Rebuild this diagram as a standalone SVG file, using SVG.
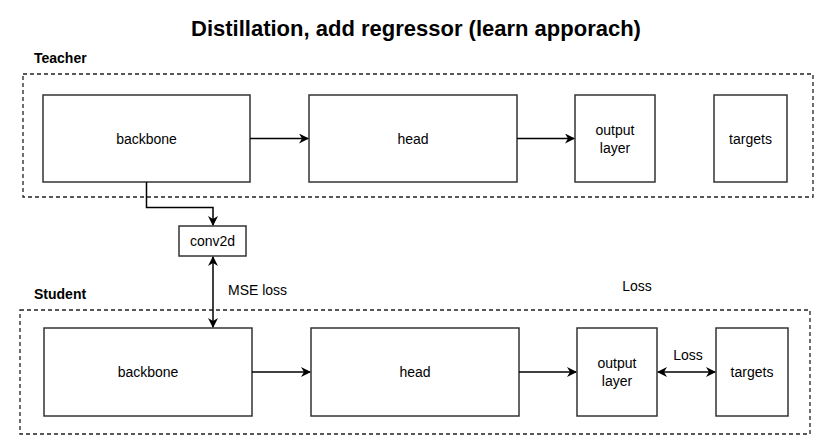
<svg xmlns="http://www.w3.org/2000/svg" width="832" height="447" viewBox="0 0 832 447">
<style>
text{font-family:"Liberation Sans",Arial,sans-serif;fill:#000}
.lbl{font-size:14px;text-anchor:middle}
.box{fill:#fff;stroke:#333;stroke-width:1.5}
.grp{fill:none;stroke:#222;stroke-width:1.3;stroke-dasharray:4 3}
.conn{fill:none;stroke:#000;stroke-width:1.5}
.h{font-weight:bold;font-size:14px}
</style>
<defs>
<marker id="ah" viewBox="0 0 10 10" refX="9" refY="5" markerWidth="10" markerHeight="10" orient="auto-start-reverse" markerUnits="userSpaceOnUse">
<path d="M0,0 L10,5 L0,10 L3,5 Z" fill="#000"/>
</marker>
</defs>
<rect width="832" height="447" fill="#fff"/>
<text x="416" y="36" font-size="22" font-weight="bold" text-anchor="middle">Distillation, add regressor (learn apporach)</text>
<g id="teacher">
<text class="h" x="34" y="63">Teacher</text>
<rect class="grp" x="23" y="74" width="790" height="123"/>
</g>
<g id="student">
<text class="h" x="34" y="299">Student</text>
<rect class="grp" x="20" y="310" width="790" height="124"/>
</g>
<g id="t-backbone"><rect class="box" x="43" y="95" width="207" height="87"/><text class="lbl" x="146.5" y="143.5">backbone</text></g>
<g id="t-head"><rect class="box" x="309" y="95" width="208" height="87"/><text class="lbl" x="413" y="143.5">head</text></g>
<g id="t-output"><rect class="box" x="575" y="95" width="80" height="87"/><text class="lbl" x="615" y="135">output</text><text class="lbl" x="615" y="153">layer</text></g>
<g id="t-targets"><rect class="box" x="714" y="95" width="73" height="87"/><text class="lbl" x="750.5" y="143.5">targets</text></g>
<g id="conv2d"><rect class="box" x="179" y="226" width="67" height="30"/><text class="lbl" x="212.5" y="246">conv2d</text></g>
<g id="s-backbone"><rect class="box" x="44" y="328" width="208" height="88"/><text class="lbl" x="148" y="377">backbone</text></g>
<g id="s-head"><rect class="box" x="311" y="328" width="208" height="88"/><text class="lbl" x="415" y="377">head</text></g>
<g id="s-output"><rect class="box" x="577" y="328" width="80" height="88"/><text class="lbl" x="617" y="368">output</text><text class="lbl" x="617" y="386">layer</text></g>
<g id="s-targets"><rect class="box" x="716" y="328" width="72" height="88"/><text class="lbl" x="752" y="377">targets</text></g>
<g id="connectors">
<path class="conn" d="M250,138.5 H308" marker-end="url(#ah)"/>
<path class="conn" d="M517,138.5 H574" marker-end="url(#ah)"/>
<path class="conn" d="M146.5,182 V207.5 H213 V225" marker-end="url(#ah)"/>
<path class="conn" d="M213,257 V327" marker-start="url(#ah)" marker-end="url(#ah)"/>
<path class="conn" d="M252,372 H310" marker-end="url(#ah)"/>
<path class="conn" d="M519,372 H576" marker-end="url(#ah)"/>
<path class="conn" d="M658,372 H715" marker-start="url(#ah)" marker-end="url(#ah)"/>
<text x="228" y="295" font-size="14">MSE loss</text>
<text class="lbl" x="637" y="291">Loss</text>
<text class="lbl" x="688" y="360">Loss</text>
</g>
</svg>
